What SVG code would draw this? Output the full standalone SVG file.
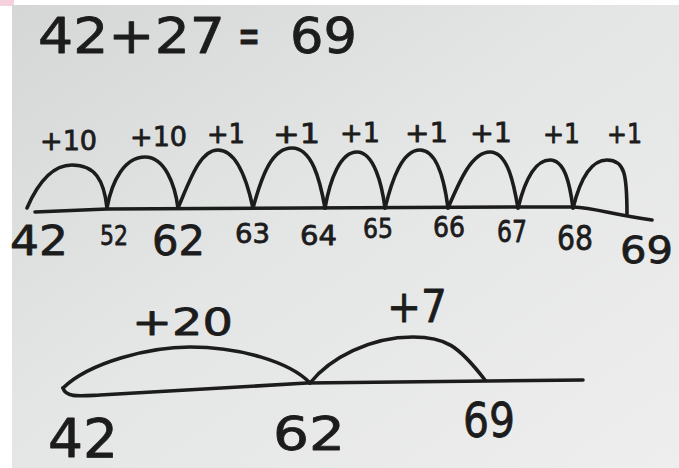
<svg xmlns="http://www.w3.org/2000/svg" width="679" height="468" viewBox="0 0 679 468">
<defs>
<linearGradient id="board" x1="0" y1="0" x2="1" y2="1">
<stop offset="0" stop-color="#d5d7d7"/>
<stop offset="0.45" stop-color="#e4e5e5"/>
<stop offset="1" stop-color="#eeeeee"/>
</linearGradient>
<style>
.ink{fill:none;stroke:#1c1c1c;stroke-width:3.6;stroke-linecap:round;stroke-linejoin:round}
text{font-family:"DejaVu Sans","Liberation Sans",sans-serif;fill:#1c1c1c;font-weight:normal;stroke:#1c1c1c;stroke-width:0.8;stroke-linejoin:round}
</style>
</defs>
<rect x="0" y="0" width="679" height="468" fill="#ffffff"/>
<rect x="0" y="0" width="14" height="6" fill="#f6d0dc"/>
<rect x="12" y="5" width="667" height="463" fill="url(#board)"/>

<g id="title">
<text x="38" y="53" font-size="50" textLength="187" lengthAdjust="spacingAndGlyphs">42+27</text>
<text x="238" y="53" font-size="50" textLength="22" lengthAdjust="spacingAndGlyphs">=</text>
<text x="290" y="53" font-size="50" textLength="67" lengthAdjust="spacingAndGlyphs">69</text>
</g>

<g id="top-line">
<path class="ink" d="M35,212 L107,209 L520,207 L573,207 C595,208 610,214 652,220"/>
<path class="ink" d="M27,208 C40,178 55,165 72,165 C95,165 104,180 107,208"/>
<path class="ink" d="M107,208 C112,180 125,157 145,157 C165,157 175,185 178,208"/>
<path class="ink" d="M178,208 C190,180 200,150 218,150 C238,150 248,185 253,208"/>
<path class="ink" d="M253,208 C262,175 272,148 292,148 C312,148 320,180 325,208"/>
<path class="ink" d="M325,208 C330,180 340,152 357,152 C374,152 382,185 385,208"/>
<path class="ink" d="M385,208 C392,180 402,150 420,150 C438,150 445,185 448,208"/>
<path class="ink" d="M448,208 C460,180 472,152 490,152 C508,152 514,185 518,208"/>
<path class="ink" d="M518,208 C525,180 535,160 550,160 C565,160 570,185 573,208"/>
<path class="ink" d="M573,208 C580,180 590,160 607,160 C625,160 627,175 627,215"/>
</g>

<g id="top-jumps" font-size="26">
<text x="40" y="150" textLength="57" lengthAdjust="spacingAndGlyphs">+10</text>
<text x="130" y="146" textLength="57" lengthAdjust="spacingAndGlyphs">+10</text>
<text x="207" y="143" textLength="38" lengthAdjust="spacingAndGlyphs">+1</text>
<text x="273" y="143" textLength="47" lengthAdjust="spacingAndGlyphs">+1</text>
<text x="340" y="142" textLength="40" lengthAdjust="spacingAndGlyphs">+1</text>
<text x="405" y="142" textLength="43" lengthAdjust="spacingAndGlyphs">+1</text>
<text x="470" y="142" textLength="42" lengthAdjust="spacingAndGlyphs">+1</text>
<text x="543" y="143" textLength="37" lengthAdjust="spacingAndGlyphs">+1</text>
<text x="607" y="143" textLength="35" lengthAdjust="spacingAndGlyphs">+1</text>
</g>

<g id="top-numbers">
<text x="10" y="255" font-size="41" textLength="58" lengthAdjust="spacingAndGlyphs">42</text>
<text x="100" y="245" font-size="27" textLength="28" lengthAdjust="spacingAndGlyphs">52</text>
<text x="152" y="255" font-size="41" textLength="53" lengthAdjust="spacingAndGlyphs">62</text>
<text x="235" y="243" font-size="27" textLength="35" lengthAdjust="spacingAndGlyphs">63</text>
<text x="300" y="245" font-size="27" textLength="37" lengthAdjust="spacingAndGlyphs">64</text>
<text x="363" y="238" font-size="27" textLength="30" lengthAdjust="spacingAndGlyphs">65</text>
<text x="433" y="237" font-size="29" textLength="32" lengthAdjust="spacingAndGlyphs">66</text>
<text x="497" y="242" font-size="30" textLength="30" lengthAdjust="spacingAndGlyphs">67</text>
<text x="557" y="250" font-size="34" textLength="36" lengthAdjust="spacingAndGlyphs">68</text>
<text x="620" y="263" font-size="38" textLength="53" lengthAdjust="spacingAndGlyphs">69</text>
</g>

<g id="bottom-line">
<path class="ink" d="M63,388 C66,398 80,396 100,395 L307,383 L583,380"/>
<path class="ink" d="M63,388 C90,362 150,347 190,347 C240,347 290,362 310,383"/>
<path class="ink" d="M310,383 C330,358 370,337 413,337 C445,337 458,345 485,380"/>
</g>

<g id="bottom-labels">
<text x="132" y="335" font-size="37" textLength="101" lengthAdjust="spacingAndGlyphs">+20</text>
<text x="387" y="322" font-size="44" textLength="60" lengthAdjust="spacingAndGlyphs">+7</text>
<text x="48" y="457" font-size="53" textLength="70" lengthAdjust="spacingAndGlyphs">42</text>
<text x="273" y="450" font-size="46" textLength="72" lengthAdjust="spacingAndGlyphs">62</text>
<text x="463" y="437" font-size="48" textLength="52" lengthAdjust="spacingAndGlyphs">69</text>
</g>
</svg>
